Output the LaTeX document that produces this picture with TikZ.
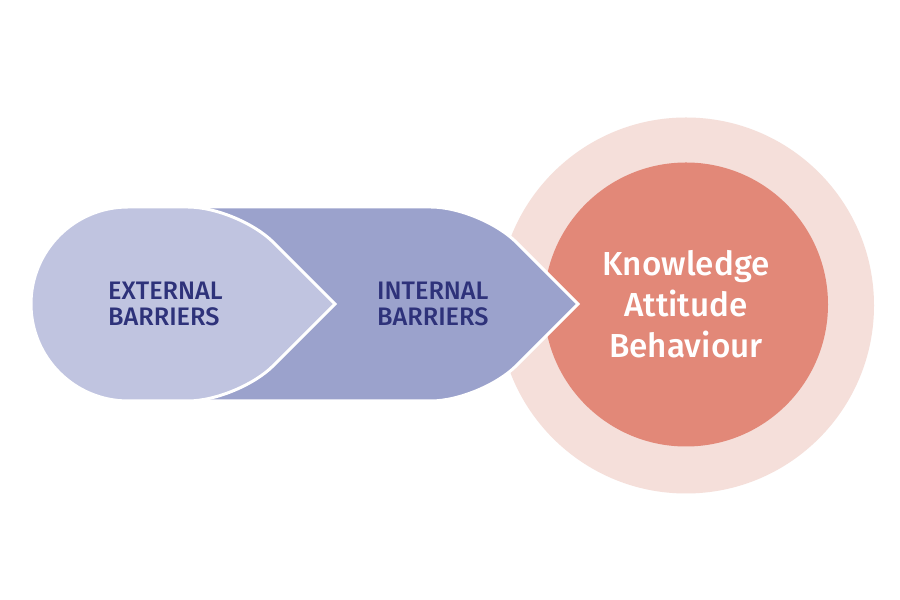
\documentclass[tikz,border=0pt]{standalone}
\usepackage{fontspec}
\setmainfont{Fira Sans}
\newfontfamily\medfont{Fira Sans Medium}
\definecolor{ringpink}{HTML}{F5DFDA}
\definecolor{corered}{HTML}{E28878}
\definecolor{extblue}{HTML}{C0C4E0}
\definecolor{intblue}{HTML}{9BA2CC}
\definecolor{barriernavy}{HTML}{2E327A}
\tikzset{barrier/.style={draw=white,line width=0.9mm},
	barriertext/.style={anchor=west,inner sep=0pt,align=left,text=barriernavy,
		font=\medfont\fontsize{21.6}{22.1}\selectfont}}

\begin{document}
\begin{tikzpicture}[x=0.3mm,y=0.3mm]
			\fill[white] (0,0) rectangle (900,600);
			\useasboundingbox (0,0) rectangle (900,600);
			\node[circle,fill=ringpink,minimum size=112.8mm,inner sep=0pt] (ring) at (686,294.5) {};
			\node[circle,fill=corered,minimum size=85.2mm,inner sep=0pt,align=center,text=white,
				font=\medfont\fontsize{28.4}{34.9}\selectfont] (core) at (686,295.5) {Knowledge\\Attitude\\Behaviour};
			\draw[barrier,fill=intblue] (200,393) -- (431,393)
				.. controls (458.5,393) and (497,377) .. (516.4,357.6) -- (578,296) -- (516.4,234.4)
				.. controls (497,215) and (458.5,199) .. (431,199) -- (200,199) -- cycle;
			\draw[barrier,fill=extblue] (128,393) -- (188,393)
				.. controls (215.5,393) and (254,377) .. (273.4,357.6) -- (335,296) -- (273.4,234.4)
				.. controls (254,215) and (215.5,199) .. (188,199) -- (128,199)
				arc[start angle=270,end angle=90,radius=97] -- cycle;
			\node[barriertext] (external) at (108,296) {EXTERNAL\\BARRIERS};
			\node[barriertext] (internal) at (377,296) {INTERNAL\\BARRIERS};
		\end{tikzpicture}
\end{document}
